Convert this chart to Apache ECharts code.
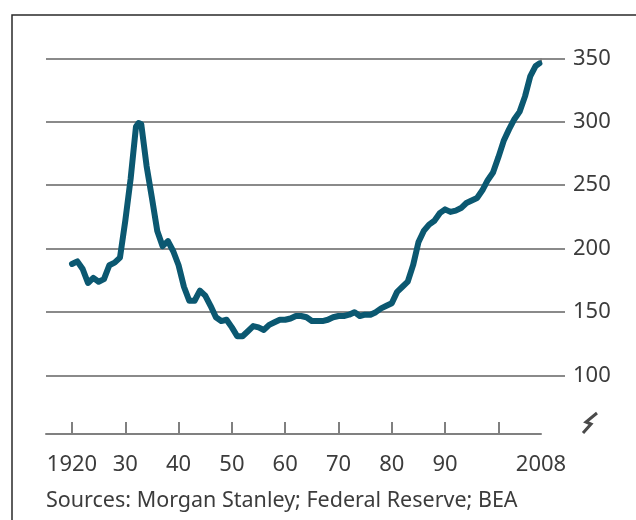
<!DOCTYPE html>
<html>
<head>
<meta charset="utf-8">
<script src="https://cdn.jsdelivr.net/npm/echarts@6/dist/echarts.min.js"></script>
<style>
  html, body { margin: 0; padding: 0; background: #ffffff; }
  #chart { width: 636px; height: 520px; }
</style>
</head>
<body>
<div id="chart"></div>
<script>
// Years and index values of the series
const years = [
  1920, 1921, 1922, 1923, 1924, 1925, 1926, 1927, 1928, 1929,
  1930, 1931, 1932, 1932.5, 1933, 1934, 1935, 1936, 1937, 1938, 1939,
  1940, 1941, 1942, 1943, 1944, 1945, 1946, 1947, 1948, 1949,
  1950, 1951, 1952, 1953, 1954, 1955, 1956, 1957, 1958, 1959,
  1960, 1961, 1962, 1963, 1964, 1965, 1966, 1967, 1968, 1969,
  1970, 1971, 1972, 1973, 1974, 1975, 1976, 1977, 1978, 1979,
  1980, 1981, 1982, 1983, 1984, 1985, 1986, 1987, 1988, 1989,
  1990, 1991, 1992, 1993, 1994, 1995, 1996, 1997, 1998, 1999,
  2000, 2001, 2002, 2003, 2004, 2005, 2006, 2007, 2007.7
];
const values = [
  188, 190, 184, 173, 177, 174, 176, 187, 189, 193,
  222, 255, 296, 299, 298, 265, 240, 214, 202, 206, 198,
  187, 170, 159, 159, 167, 163, 155, 146, 143, 144,
  138, 131, 131, 135, 139, 138, 136, 140, 142, 144,
  144, 145, 147, 147, 146, 143, 143, 143, 144, 146,
  147, 147, 148, 150, 147, 148, 148, 150, 153, 155,
  157, 166, 170, 174, 187, 205, 214, 219, 222, 228,
  231, 229, 230, 232, 236, 238, 240, 246, 254, 260,
  272, 285, 294, 302, 308, 320, 336, 344, 346
];

// Axis ticks and labels
const yTicks = [100, 150, 200, 250, 300, 350];
const xTickYears = [1920, 1930, 1940, 1950, 1960, 1970, 1980, 1990, 2000];
const xLabelYears = [1920, 1930, 1940, 1950, 1960, 1970, 1980, 1990, 2008];
const xLabelText = ['1920', '30', '40', '50', '60', '70', '80', '90', '2008'];
const sourceText = 'Sources: Morgan Stanley; Federal Reserve; BEA';

// Layout (pixels)
const W = 636, H = 520;
const plotLeft = 46, plotRight = 565;   // gridline extent
const axisEndX = 541, firstTickX = 72;  // x-axis line end and 1920 tick
const plotTop = 58.3, plotBottom = 439.1;
const axisY = 434;

const firstYear = xTickYears[0], lastYear = xLabelYears[xLabelYears.length - 1];
const yearsPerPx = (lastYear - firstYear) / (axisEndX - firstTickX);
const xMin = firstYear - (firstTickX - plotLeft) * yearsPerPx;
const xMax = lastYear + (plotRight - axisEndX) * yearsPerPx;

const FONT = '"Noto Sans", "Open Sans", sans-serif';
const TEXT_COLOR = '#3c3c3c';
const AXIS_COLOR = '#808080';

const seriesData = years.map((y, i) => [y, values[i]]);

const chart = echarts.init(document.getElementById('chart'), null, { renderer: 'canvas' });

chart.setOption({
  animation: false,
  backgroundColor: '#ffffff',
  grid: [
    { left: plotLeft, right: W - plotRight, top: plotTop, bottom: H - plotBottom, containLabel: false },
    { left: plotLeft, right: W - axisEndX, top: plotTop, bottom: H - axisY, containLabel: false }
  ],
  xAxis: [
    { gridIndex: 0, type: 'value', min: xMin, max: xMax, show: false },
    {
      gridIndex: 1, type: 'value', min: xMin, max: lastYear,
      splitLine: { show: false },
      axisLine: { show: true, lineStyle: { color: AXIS_COLOR, width: 2 } },
      axisTick: {
        show: true, inside: true, length: 12,
        customValues: xTickYears,
        lineStyle: { color: AXIS_COLOR, width: 2 }
      },
      axisLabel: {
        show: true, margin: 20,
        customValues: xLabelYears,
        formatter: v => xLabelText[xLabelYears.indexOf(Math.round(v))] || '',
        color: TEXT_COLOR, fontFamily: FONT, fontSize: 22
      }
    },
    {
      gridIndex: 1, type: 'value', min: xMin, max: lastYear,
      splitLine: { show: false },
      axisLine: { show: false },
      axisTick: {
        show: true, inside: true, length: 6,
        customValues: [lastYear],
        lineStyle: { color: AXIS_COLOR, width: 2 }
      },
      axisLabel: { show: false }
    }
  ],
  yAxis: [
    {
      gridIndex: 0, type: 'value', position: 'right',
      min: 50, max: 350, interval: 50,
      axisLine: { show: false },
      axisTick: { show: false },
      splitLine: {
        show: true, showMinLine: false,
        lineStyle: { color: '#8a8a8a', width: 2 }
      },
      axisLabel: {
        show: true, margin: 8, showMinLabel: false,
        formatter: v => (yTicks.indexOf(v) >= 0 ? String(v) : ''),
        color: TEXT_COLOR, fontFamily: FONT, fontSize: 22
      }
    },
    { gridIndex: 1, type: 'value', min: 0, max: 1, show: false }
  ],
  series: [
    {
      type: 'line',
      xAxisIndex: 0, yAxisIndex: 0,
      data: seriesData,
      showSymbol: false,
      smooth: false,
      lineStyle: { color: '#0b5871', width: 6, cap: 'round', join: 'round' },
      z: 5
    }
  ],
  graphic: [
    {
      type: 'rect', silent: true,
      shape: { x: 12, y: 15, width: 700, height: 600 },
      style: { fill: 'none', stroke: '#2a2a2a', lineWidth: 1.5 }
    },
    {
      // axis break mark
      type: 'polyline', silent: true,
      shape: { points: [[583, 433], [591, 424], [586, 422], [597, 413]] },
      style: { fill: 'none', stroke: '#4a4a4a', lineWidth: 3, lineJoin: 'miter' }
    },
    {
      type: 'text', silent: true,
      left: 46, top: 490,
      style: { text: sourceText, fill: TEXT_COLOR, font: '21.5px ' + FONT }
    }
  ]
});
</script>
</body>
</html>
